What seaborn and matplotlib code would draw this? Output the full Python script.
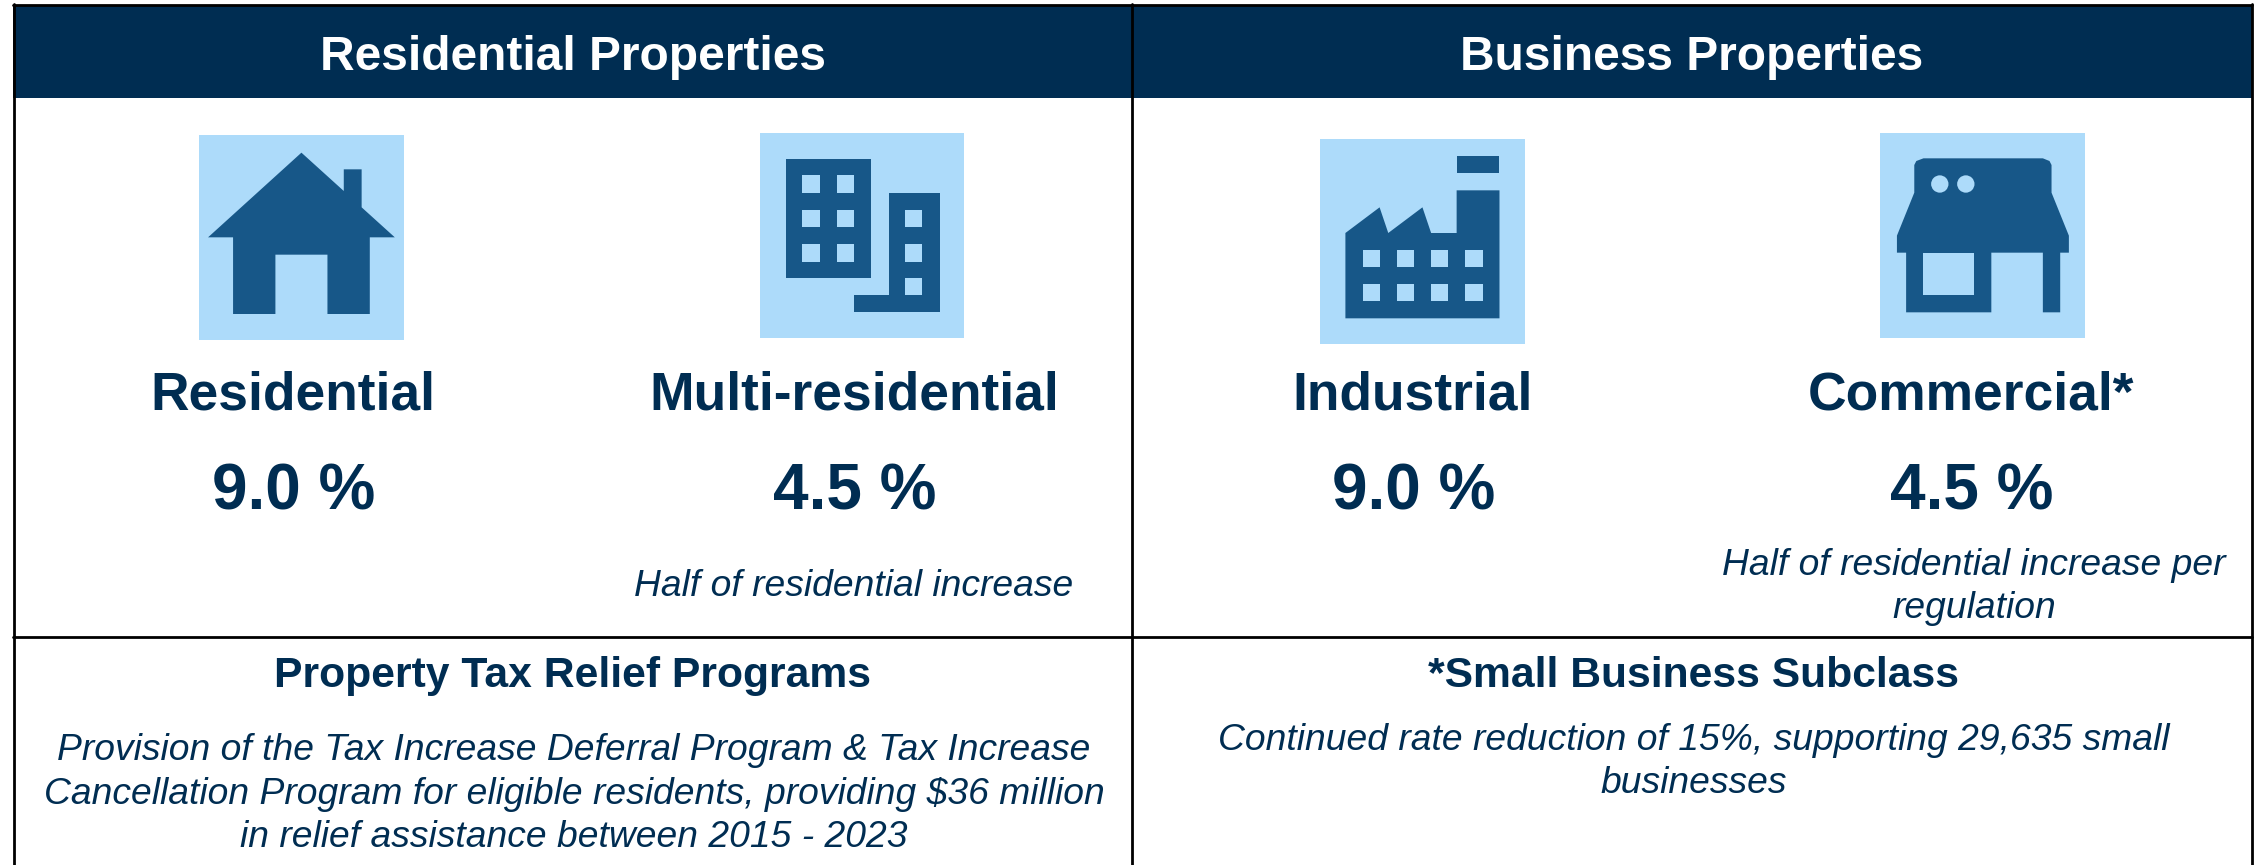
#!/usr/bin/env python3
import matplotlib
matplotlib.use('Agg')
import matplotlib.pyplot as plt
from matplotlib.patches import Rectangle, Ellipse, Polygon
import seaborn as sns

sns.set_theme(style='white')
plt.rcParams['font.family'] = ['Liberation Sans', 'DejaVu Sans']

groups = ['Residential Properties', 'Business Properties']
classes = ['Residential', 'Multi-residential', 'Industrial', 'Commercial*']
increases = [9.0, 4.5, 9.0, 4.5]
notes = ['', 'Half of residential increase', '', 'Half of residential increase per\nregulation']
footer_titles = ['Property Tax Relief Programs', '*Small Business Subclass']
footer_texts = ['Provision of the Tax Increase Deferral Program & Tax Increase\n'
                'Cancellation Program for eligible residents, providing $36 million\n'
                'in relief assistance between 2015 - 2023',
                'Continued rate reduction of 15%, supporting 29,635 small\nbusinesses']

navy = '#002d52'
icon_dark = '#175788'
icon_light = '#addbfa'

W, H = 2257, 865
RIGHT = 2251.5
fig = plt.figure(figsize=(W/100, H/100), dpi=100)
ax = fig.add_axes([0, 0, 1, 1])
ax.set_xlim(0, W)
ax.set_ylim(H, 0)
ax.axis('off')

SX, SY = 1.96, 3


def conv(pts, off):
    return [(off[0] + x/SX, off[1] + y/SY) for x, y in pts]


def poly(pts, off, color=icon_dark):
    ax.add_patch(Polygon(conv(pts, off), closed=True, fc=color, ec='none', zorder=3))


def box(x0, y0, x1, y1, off, color=icon_dark, z=3):
    ax.add_patch(Rectangle((off[0] + x0/SX, off[1] + y0/SY), (x1-x0)/SX, (y1-y0)/SY,
                           fc=color, ec='none', zorder=z))


# header and grid
ax.add_patch(Rectangle((13, 5), RIGHT-13, 93, fc=navy, ec='none', zorder=1))
for x in [13.5, 1132, RIGHT]:
    ax.plot([x, x], [4, H], color='black', lw=2, zorder=2)
ax.plot([13, RIGHT], [4.5, 4.5], color='black', lw=2, zorder=2)
ax.plot([13, RIGHT], [636.5, 636.5], color='black', lw=2, zorder=2)

# house
off = (180, 120)
box(37, 45, 439, 660, off, icon_light, 2)
poly([(55, 352), (238, 98), (321, 213), (321, 148), (356, 148), (356, 262), (421, 352),
      (372, 352), (372, 582), (289, 582), (289, 404), (187, 404), (187, 582), (104, 582),
      (104, 352)], off)

# apartments
box(1137, 39, 1537, 654, off, icon_light, 2)
box(1188, 117, 1354, 474, off)
poly([(1389, 218), (1489, 218), (1489, 577), (1322, 577), (1322, 525), (1389, 525)], off)
for wx in [1220, 1288]:
    for wy in [166, 269, 373]:
        box(wx, wy, wx+34, wy+52, off, icon_light, 4)
for wy in [269, 373, 474]:
    box(1421, wy, 1455, wy+52, off, icon_light, 4)

# factory
off = (1300, 120)
box(39, 57, 441, 671, off, icon_light, 2)
box(307, 107, 391, 159, off)
poly([(89, 339), (156, 262), (173, 339), (240, 262), (257, 339), (307, 339), (307, 211),
      (391, 211), (391, 595), (89, 595)], off)
for wx in [123, 190, 257, 324]:
    for wy in [390, 492]:
        box(wx, wy, wx+34, wy+52, off, icon_light, 4)

# shop
box(1137, 39, 1539, 654, off, icon_light, 2)
poly([(1204, 135), (1208, 123), (1222, 115), (1456, 115), (1469, 123), (1473, 135),
      (1473, 218), (1507, 347), (1507, 398), (1490, 398), (1490, 577), (1456, 577),
      (1456, 398), (1355, 398), (1355, 577), (1188, 577), (1188, 398), (1170, 398),
      (1170, 347), (1204, 218)], off)
box(1221, 398, 1322, 525, off, icon_light, 4)
for ex in [1254, 1305]:
    ax.add_patch(Ellipse((off[0] + ex/SX, off[1] + 192/SY), 34/SX, 52/SY, fc=icon_light,
                         ec='none', zorder=4))

# text
for x, g in zip([573, 1692], groups):
    ax.text(x, 57, g, color='white', fontsize=34.5, fontweight='bold', ha='center', va='center', zorder=5)

class_x = [293, 854, 1413, 1971]
for x, c, v in zip(class_x, classes, increases):
    ax.text(x, 396, c, color=navy, fontsize=38.4, fontweight='bold', ha='center', va='center')
    ax.text(x + 1, 492, f'{v:.1f} %', color=navy, fontsize=46, fontweight='bold', ha='center', va='center')

ax.text(854, 586, notes[1], color=navy, fontsize=26.8, style='italic', ha='center', va='center')
ax.text(1974, 587, notes[3], color=navy, fontsize=26.8, style='italic', ha='center', va='center',
        linespacing=1.3)

for x, t in zip([572, 1694], footer_titles):
    ax.text(x, 676, t, color=navy, fontsize=30.7, fontweight='bold', ha='center', va='center')

ax.text(574, 794, footer_texts[0], color=navy, fontsize=26.8, style='italic', ha='center', va='center',
        linespacing=1.3)
ax.text(1694, 762, footer_texts[1], color=navy, fontsize=26.8, style='italic', ha='center', va='center',
        linespacing=1.3)

fig.savefig('out.png', dpi=100)
